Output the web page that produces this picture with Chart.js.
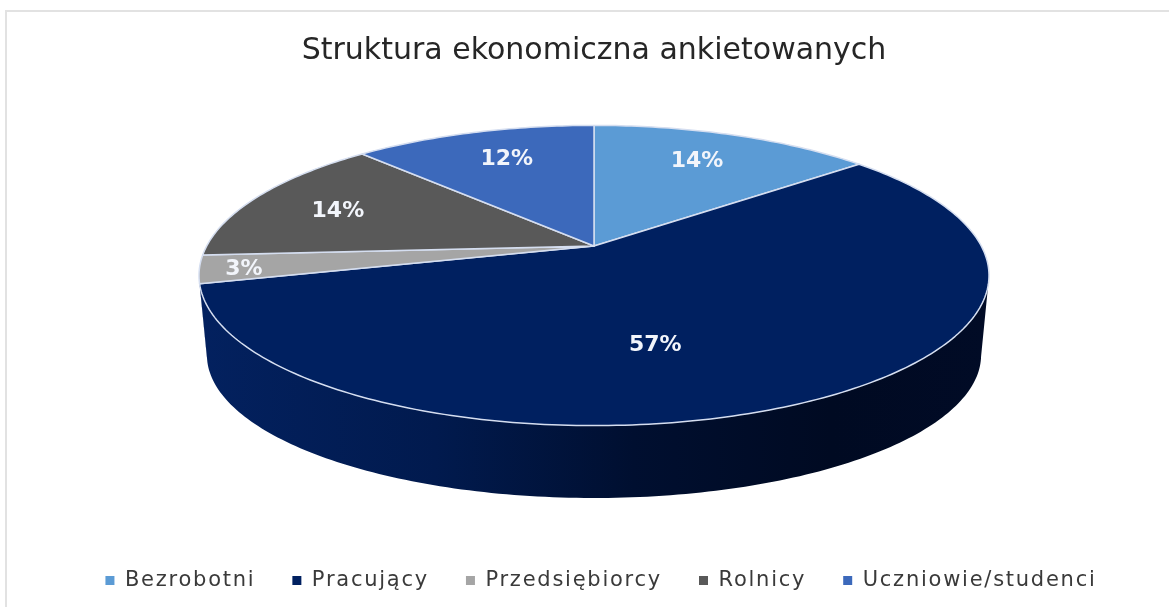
<!DOCTYPE html>
<html lang="pl">
<head>
<meta charset="UTF-8">
<title>Struktura ekonomiczna ankietowanych</title>
<script src="https://cdn.jsdelivr.net/npm/chart.js"></script>
<style>
  body { margin: 0; background: #fff; overflow: hidden; }
  #frame { position: absolute; left: 5px; top: 10px; width: 1164px; height: 597px; border: solid #e2e2e2; border-width: 2px 0 0 2px; box-sizing: border-box; pointer-events: none; }
  canvas { position: absolute; left: 0; top: 0; }
</style>
</head>
<body>
<canvas id="myChart" width="1169" height="607"></canvas>
<div id="frame"></div>
<script>
const titleText = "Struktura ekonomiczna ankietowanych";
const categories = ["Bezrobotni", "Pracujący", "Przedsiębiorcy", "Rolnicy", "Uczniowie/studenci"];
const values = [14, 57, 3, 14, 12];
const colors = ["#5b9bd5", "#002060", "#a5a5a5", "#595959", "#3c69bb"];
// where each percent label sits inside its slice (0 = apex, 1 = rim), and a small nudge in px
const labelRadius = [0.68, 0.7, 0.9, 0.75, 0.68];
const labelNudge = [[3, -5], [-79, -3], [4, 2], [0, 3], [-1, -6]];

// the tilted disc: squash and perspective shift of the apex, plus the lower rim
const disc = { squash: 0.38, tilt: -0.197, cy: 275.5, lowerCy: 355, lowerScale: 0.98, lowerRy: 143 };
const legendSpacing = "1.75px";

// perspective map of a point on the unit circle
function project(u, v, cx, rx, ry, cy) {
  const k = disc.tilt;
  const d = 1 + k * v;
  return { x: cx + rx * u * Math.sqrt(1 - k * k) / d, y: cy + ry * (v + k) / d, front: (v + k) / d };
}

function sliceRim(el, ry, cy, rxScale) {
  const pts = [];
  const steps = Math.max(4, Math.ceil((el.endAngle - el.startAngle) * 60));
  for (let i = 0; i <= steps; i++) {
    const a = el.startAngle + (el.endAngle - el.startAngle) * i / steps;
    pts.push(project(Math.cos(a), Math.sin(a), el.x, el.outerRadius * rxScale, ry, cy));
  }
  return pts;
}

const pie3d = {
  id: "pie3d",
  beforeLayout(chart) {
    chart.ctx.letterSpacing = legendSpacing;
  },
  afterLayout(chart) {
    // legend row sits a bit lower and to the right of the centre
    const l = chart.legend;
    l.left += 7; l.right += 7;
    const dy = 581 - (l.top + 37 + 11);
    l.top += dy; l.bottom += dy;
  },
  beforeDraw(chart) {
    chart.ctx.letterSpacing = legendSpacing;
    // the spacing is only for the legend, the title is drawn without it
    const block = chart.titleBlock;
    if (!block.plainDraw) {
      const draw = block.draw;
      block.draw = function () {
        chart.ctx.letterSpacing = "0px";
        draw.call(block);
        chart.ctx.letterSpacing = legendSpacing;
      };
      block.plainDraw = true;
    }
  },
  beforeDatasetDraw(chart, args) {
    const ctx = chart.ctx;
    const els = chart.getDatasetMeta(args.index).data;
    const ry = els[0].outerRadius * disc.squash;

    // side wall first
    const grad = ctx.createLinearGradient(els[0].x - els[0].outerRadius, 0, els[0].x + els[0].outerRadius, 0);
    grad.addColorStop(0, "#03215f");
    grad.addColorStop(0.3, "#011a4e");
    grad.addColorStop(0.55, "#000f30");
    grad.addColorStop(0.8, "#000a22");
    grad.addColorStop(1, "#010b26");
    els.forEach((el) => {
      const top = sliceRim(el, ry, disc.cy, 1).filter((p) => p.front >= 0);
      if (!top.length) return;
      const low = sliceRim(el, disc.lowerRy, disc.lowerCy, disc.lowerScale).filter((p) => p.front >= 0);
      ctx.beginPath();
      top.forEach((p, i) => i ? ctx.lineTo(p.x, p.y) : ctx.moveTo(p.x, p.y));
      low.reverse().forEach((p) => ctx.lineTo(p.x, p.y));
      ctx.closePath();
      ctx.fillStyle = grad;
      ctx.fill();
    });

    // top face
    els.forEach((el) => {
      const apex = project(0, 0, el.x, el.outerRadius, ry, disc.cy);
      const rim = sliceRim(el, ry, disc.cy, 1);
      ctx.beginPath();
      ctx.moveTo(apex.x, apex.y);
      rim.forEach((p) => ctx.lineTo(p.x, p.y));
      ctx.closePath();
      ctx.fillStyle = el.options.backgroundColor;
      ctx.fill();
      ctx.lineJoin = "round";
      ctx.lineWidth = el.options.borderWidth;
      ctx.strokeStyle = el.options.borderColor;
      ctx.stroke();
    });

    // percent labels
    ctx.save();
    ctx.letterSpacing = "0px";
    ctx.font = "bold 22px 'DejaVu Sans'";
    ctx.textAlign = "center";
    ctx.textBaseline = "middle";
    ctx.fillStyle = "#f2f5fb";
    els.forEach((el, i) => {
      const a = (el.startAngle + el.endAngle) / 2;
      const f = labelRadius[i];
      const p = project(Math.cos(a) * f, Math.sin(a) * f, el.x, el.outerRadius, ry, disc.cy);
      ctx.fillText(values[i] + "%", p.x + labelNudge[i][0], p.y + labelNudge[i][1]);
    });
    ctx.restore();
    return false;
  }
};

new Chart(document.getElementById("myChart"), {
  type: "pie",
  data: {
    labels: categories,
    datasets: [{
      data: values,
      backgroundColor: colors,
      borderColor: "#d5def0",
      borderWidth: 1.5
    }]
  },
  options: {
    responsive: false,
    animation: false,
    radius: 395,
    layout: { padding: { left: 19 } },
    plugins: {
      tooltip: { enabled: false },
      title: {
        display: true,
        text: titleText,
        color: "#262626",
        font: { family: "'DejaVu Sans'", size: 30, weight: "normal" },
        padding: { top: 33, bottom: 10 }
      },
      legend: {
        position: "bottom",
        onClick: null,
        labels: {
          boxWidth: 9,
          boxHeight: 9,
          padding: 37,
          color: "#3a3a3a",
          font: { family: "'DejaVu Sans'", size: 21 },
          generateLabels(chart) {
            return Chart.overrides.pie.plugins.legend.labels.generateLabels(chart).map((item) => {
              item.lineWidth = 0;
              return item;
            });
          }
        }
      }
    }
  },
  plugins: [pie3d]
});
</script>
</body>
</html>
